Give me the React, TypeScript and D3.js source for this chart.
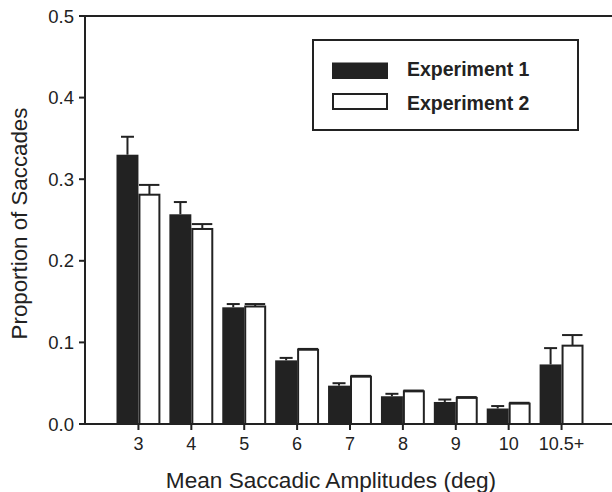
import React from 'react';
import * as d3 from 'd3';

const categories = ['3', '4', '5', '6', '7', '8', '9', '10', '10.5+'];
const seriesNames = ['Experiment 1', 'Experiment 2'];
const exp1 = [0.330, 0.257, 0.143, 0.078, 0.047, 0.034, 0.027, 0.019, 0.073];
const exp1Err = [0.022, 0.015, 0.004, 0.003, 0.003, 0.003, 0.003, 0.003, 0.020];
const exp2 = [0.281, 0.239, 0.144, 0.091, 0.058, 0.040, 0.032, 0.025, 0.096];
const exp2Err = [0.012, 0.006, 0.003, 0.001, 0.001, 0.001, 0.001, 0.001, 0.013];
const yTicks = [0, 0.1, 0.2, 0.3, 0.4, 0.5];

const W = 612;
const H = 492;
const ink = '#222';
const font = '"Liberation Sans", Arial, Helvetica, sans-serif';

export default function App() {
  const left = 85;
  const top = 16;
  const bottom = 424;

  const x = d3.scaleBand<string>()
    .domain(categories)
    .range([112, 588])
    .paddingInner(0.17)
    .paddingOuter(0.085);
  const xSub = d3.scaleBand<string>()
    .domain(seriesNames)
    .range([0, x.bandwidth()]);
  const y = d3.scaleLinear().domain([0, 0.5]).range([bottom, top]);
  const fmt = d3.format('.1f');
  const bw = xSub.bandwidth();

  return (
    <svg width={W} height={H} style={{ position: 'absolute', left: 0, top: 0, background: '#fff' }} fontFamily={font}>
      {/* bars */}
      {categories.map((c, i) => {
        const x0 = x(c)!;
        const x1 = x0 + xSub(seriesNames[0])!;
        const x2 = x0 + xSub(seriesNames[1])!;
        const c1 = x1 + bw / 2;
        const c2 = x2 + bw / 2;
        return (
          <g key={c}>
            {/* experiment 1 error */}
            <line x1={c1} x2={c1} y1={y(exp1[i])} y2={y(exp1[i] + exp1Err[i])} stroke={ink} strokeWidth={2} />
            <line x1={c1 - 6.5} x2={c1 + 6.5} y1={y(exp1[i] + exp1Err[i])} y2={y(exp1[i] + exp1Err[i])} stroke={ink} strokeWidth={2} />
            <rect x={x1} y={y(exp1[i])} width={bw} height={bottom - y(exp1[i])} fill={ink} />
            {/* experiment 2 error */}
            <line x1={c2} x2={c2} y1={y(exp2[i])} y2={y(exp2[i] + exp2Err[i])} stroke={ink} strokeWidth={2} />
            <line x1={x2 + 0.5} x2={x2 + bw - 1} y1={y(exp2[i] + exp2Err[i])} y2={y(exp2[i] + exp2Err[i])} stroke={ink} strokeWidth={2} />
            <rect x={x2 + 1} y={y(exp2[i])} width={bw - 2} height={bottom - y(exp2[i])} fill="#fff" stroke={ink} strokeWidth={2} />
          </g>
        );
      })}

      {/* frame: y axis, top line, x axis */}
      <line x1={left} x2={left} y1={top} y2={bottom} stroke={ink} strokeWidth={2} />
      <line x1={left - 1} x2={W} y1={top} y2={top} stroke={ink} strokeWidth={2} />
      <line x1={left - 1} x2={W} y1={bottom} y2={bottom} stroke={ink} strokeWidth={2} />

      {/* y ticks */}
      {yTicks.map((t) => (
        <g key={t}>
          <line x1={left - 6} x2={left} y1={y(t)} y2={y(t)} stroke={ink} strokeWidth={2} />
          <text x={left - 11} y={y(t)} dy="0.36em" textAnchor="end" fontSize={18.5} fill={ink}>{fmt(t)}</text>
        </g>
      ))}

      {/* x ticks */}
      {categories.map((c) => {
        const cx = x(c)! + x.bandwidth() / 2;
        return (
          <g key={c}>
            <line x1={cx} x2={cx} y1={bottom} y2={bottom + 6} stroke={ink} strokeWidth={2} />
            <text x={cx} y={450} textAnchor="middle" fontSize={18} fill={ink}>{c}</text>
          </g>
        );
      })}

      {/* axis titles */}
      <text x={331} y={488} textAnchor="middle" fontSize={22.6} fill={ink}>Mean Saccadic Amplitudes (deg)</text>
      <text transform="translate(27,223.5) rotate(-90)" textAnchor="middle" fontSize={22.3} fill={ink}>Proportion of Saccades</text>

      {/* legend */}
      <rect x={313} y={40} width={265} height={90} fill="#fff" stroke={ink} strokeWidth={2} />
      {seriesNames.map((s, i) => (
        <g key={s}>
          <rect
            x={i === 0 ? 332 : 333}
            y={i === 0 ? 62.5 : 94}
            width={i === 0 ? 56 : 54}
            height={i === 0 ? 16.5 : 15}
            fill={i === 0 ? ink : '#fff'}
            stroke={i === 0 ? 'none' : ink}
            strokeWidth={2}
          />
          <text x={407} y={75.5 + i * 34} fontSize={19.5} fontWeight="bold" fill={ink}>{s}</text>
        </g>
      ))}
    </svg>
  );
}
